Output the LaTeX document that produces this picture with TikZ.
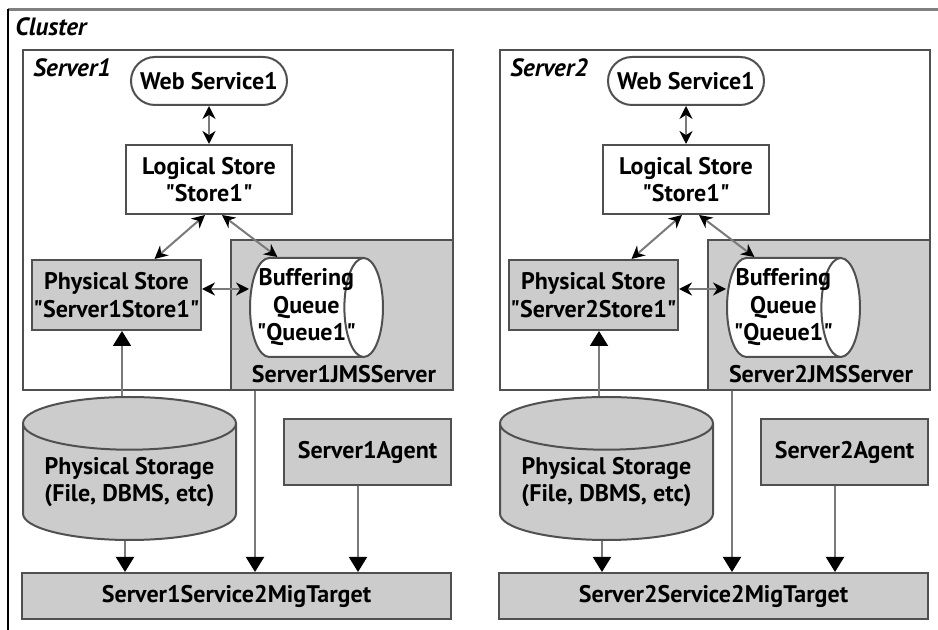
\documentclass[tikz,border=0pt]{standalone}
\usepackage{fontspec}
\setmainfont{PT Sans}
\usetikzlibrary{shapes.geometric,arrows.meta}
\definecolor{fillgrey}{HTML}{CCCCCC}
\definecolor{edgegrey}{HTML}{505050}
\definecolor{linegrey}{HTML}{7A7A7A}
\newcommand{\quoted}[1]{\textquotedbl#1\textquotedbl}

\begin{document}
\begin{tikzpicture}[x=0.5pt,y=-0.5pt,
    every node/.style={font=\fontsize{12}{13.75}\selectfont\bfseries},
    frame/.style={draw=edgegrey, line width=1pt},
    storebox/.style={frame, fill=white, align=center, inner sep=0pt},
    greybox/.style={storebox, fill=fillgrey},
    tag/.style={font=\fontsize{12.5}{13}\selectfont\bfseries\itshape, inner sep=0pt, anchor=base west},
    flow/.style={draw=linegrey, line width=1pt, -{Triangle[length=7.5pt,width=9pt,color=black]}},
    twoway/.style={draw=linegrey, line width=1pt, {Stealth[length=6.5pt,width=6.5pt,color=black]}-{Stealth[length=6.5pt,width=6.5pt,color=black]}}]

    \useasboundingbox (0,0) rectangle (938,630);

    % Cluster frame
    \draw[line width=1.5pt, gray] (8,10) -- (938,10);
    \draw[line width=1.2pt, black] (8,9.5) -- (8,630);
    \node[tag] (cluster) at (15,36) {Cluster};

    % The two servers
    \foreach \s/\dx in {1/0, 2/477} {
      \begin{scope}[xshift=\dx*0.5pt]
        % Server and JMS server frames
        \node[storebox, minimum width=215pt, minimum height=170pt] (srv\s) at (238,220) {};
        \node[greybox, minimum width=111pt, minimum height=75pt] (jms\s) at (342,315) {};
        \node[tag] (srvlbl\s) at (33,77) {Server\s};
        \node[anchor=base, inner sep=0pt] (jmslbl\s) at (344,383) {Server\s JMSServer};

        % Stores
        \node[storebox, rounded corners=12pt, minimum width=78pt, minimum height=24pt] (ws\s) at (209,81) {Web Service1};
        \node[storebox, minimum width=83pt, minimum height=34.5pt] (ls\s) at (209,179.5) {Logical Store\\\quoted{Store1}};
        \node[greybox, minimum width=84.5pt, minimum height=35pt] (ps\s) at (116.5,295) {Physical Store\\\quoted{Server\s Store1}};
        \node[cylinder, frame, fill=white, aspect=0.5, minimum height=66.5pt, minimum width=49.5pt,
              anchor=shape center, align=center, inner ysep=0pt, inner xsep=-6.5pt] (bq\s) at (316.5,307.5) {Buffering\\Queue\\\quoted{Queue1}};

        % Storage, agent and migration target
        \node[cylinder, shape border rotate=90, frame, fill=fillgrey, aspect=0.31, minimum width=106.5pt, minimum height=71.5pt,
              anchor=shape center, align=center, inner sep=0pt] (pst\s) at (129.5,468.5) {Physical Storage\\(File, DBMS, etc)};
        \node[greybox, minimum width=83.5pt, minimum height=33pt] (ag\s) at (367.5,452) {Server\s Agent};
        \node[greybox, minimum width=214.5pt, minimum height=23pt] (mt\s) at (236.5,596) {Server\s Service2MigTarget};

        % Connectors
        \draw[twoway] (ws\s.south) -- (ls\s.north);
        \draw[twoway] ([xshift=-2pt]ls\s.south) -- ([xshift=19pt]ps\s.north);
        \draw[twoway] ([xshift=6.5pt]ls\s.south) -- ([xshift=-14.5pt]bq\s.north);
        \draw[twoway] ([yshift=3pt]ps\s.east) -- ([yshift=3pt]ps\s.east -| bq\s.west);
        \draw[flow] ([xshift=2.75pt]ps\s.south |- pst\s.north) -- ([xshift=2.75pt]ps\s.south);
        \draw[flow] ([xshift=-2.25pt]pst\s.south) -- ([xshift=-2.25pt]pst\s.south |- mt\s.north);
        \draw[flow] ([xshift=12.5pt]jms\s.south west) -- ([xshift=12.5pt]jms\s.south west |- mt\s.north);
        \draw[flow] ([xshift=-4.75pt]ag\s.south) -- ([xshift=-4.75pt]ag\s.south |- mt\s.north);
      \end{scope}
    }
\end{tikzpicture}
\end{document}
